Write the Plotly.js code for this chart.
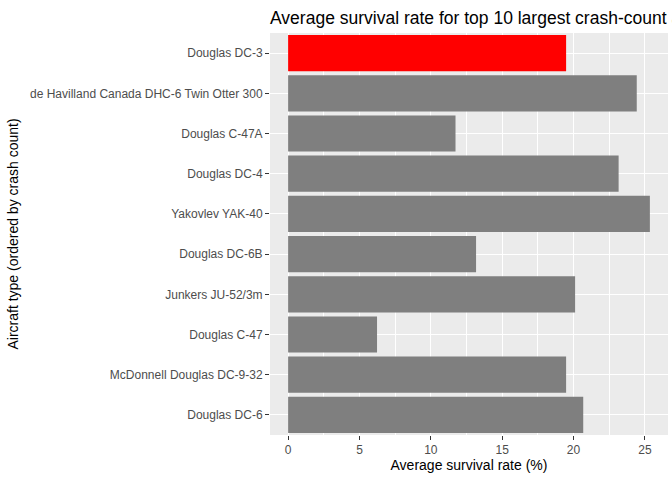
<!DOCTYPE html>
<html>
<head>
<script src="https://cdn.plot.ly/plotly-3.0.1.min.js"></script>
<style>body{margin:0}</style>
</head>
<body>
<div id="chart" style="width:672px;height:480px"></div>
<script>
// bottom to top, as drawn
var aircraft = ["Douglas DC-6", "McDonnell Douglas DC-9-32", "Douglas C-47", "Junkers JU-52/3m",
  "Douglas DC-6B", "Yakovlev YAK-40", "Douglas DC-4", "Douglas C-47A",
  "de Havilland Canada DHC-6 Twin Otter 300", "Douglas DC-3"];
var survivalRate = [20.68, 19.48, 6.23, 20.11, 13.17, 25.35, 23.16, 11.73, 24.43, 19.48];
var highlight = "Douglas DC-3";

var colors = aircraft.map(function(a) { return a === highlight ? "#ff0000" : "#7f7f7f"; });

var trace = {
  type: 'bar',
  orientation: 'h',
  x: survivalRate,
  y: aircraft,
  width: 0.9,
  marker: {color: colors},
  hoverinfo: 'x+y'
};

var layout = {
  width: 672, height: 480,
  margin: {l: 270, r: 4, t: 33, b: 45},
  paper_bgcolor: '#ffffff',
  plot_bgcolor: '#ebebeb',
  showlegend: false,
  font: {family: 'Liberation Sans, Arial, sans-serif'},
  title: {text: 'Average survival rate for top 10 largest crash-count aircraft types',
    font: {size: 17.5, color: '#000000'}, x: 0, xref: 'paper', xanchor: 'left', y: 0.975},
  xaxis: {
    range: [-1.27, 26.62], tickvals: [0, 5, 10, 15, 20, 25],
    showgrid: true, gridcolor: '#ffffff', gridwidth: 1.1,
    minor: {dtick: 2.5, tick0: 0, showgrid: true, gridcolor: '#ffffff', gridwidth: 0.5},
    ticks: 'outside', ticklen: 4, tickcolor: '#333333',
    tickfont: {size: 12, color: '#4d4d4d'}, zeroline: false,
    title: {text: 'Average survival rate (%)', font: {size: 14, color: '#000000'}, standoff: 3}
  },
  yaxis: {
    categoryorder: 'array', categoryarray: aircraft,
    showgrid: true, gridcolor: '#ffffff', gridwidth: 1.1,
    ticks: 'outside', ticklen: 4, tickcolor: '#333333',
    tickfont: {size: 12, color: '#4d4d4d'},
    title: {text: 'Aircraft type (ordered by crash count)', font: {size: 14, color: '#000000'}, standoff: 8}
  }
};

Plotly.newPlot('chart', [trace], layout, {displayModeBar: false});
</script>
</body>
</html>
